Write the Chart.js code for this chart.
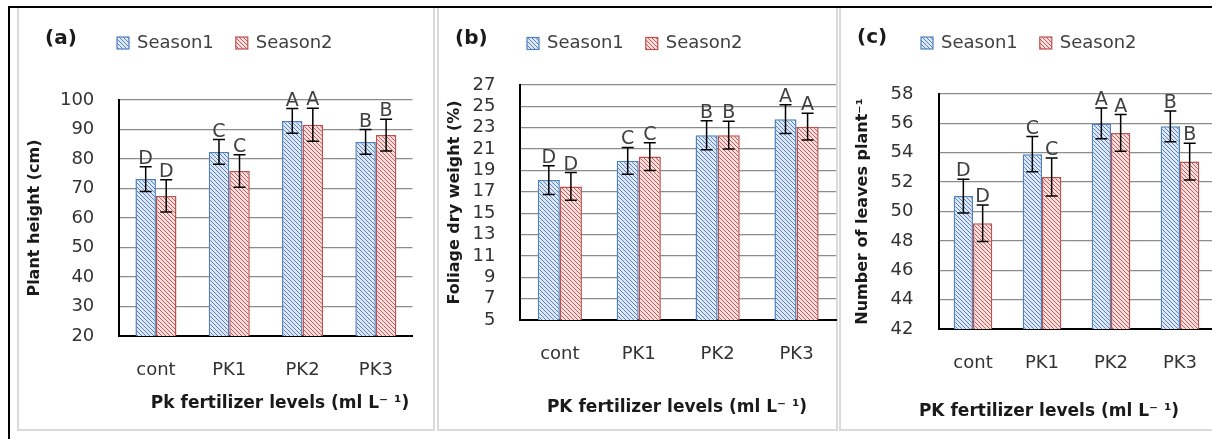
<!DOCTYPE html>
<html>
<head>
<meta charset="utf-8">
<script src="https://cdn.jsdelivr.net/npm/chart.js@4.4.0/dist/chart.umd.min.js"></script>
<style>
  html, body { margin: 0; padding: 0; background: #fff; }
  #sheet { position: relative; width: 1212px; height: 439px; overflow: hidden; background: #fff; }
  .panel { position: absolute; top: 8px; height: 423px; box-sizing: border-box;
           border: 2px solid #dadada; border-top: none; }
  .rule { position: absolute; background: #000; }
  canvas { position: absolute; top: 9px; }
</style>
</head>
<body>
<div id="sheet">
  <div class="panel" style="left:17px;width:418px"></div>
  <div class="panel" style="left:437px;width:401px"></div>
  <div class="panel" style="left:839px;width:400px"></div>
  <div class="rule" style="left:8px;top:6px;width:1204px;height:2px"></div>
  <div class="rule" style="left:8px;top:6px;width:2px;height:433px"></div>
  <canvas id="cHeight" width="413" height="418" style="left:19px"></canvas>
  <canvas id="cFoliage" width="399" height="418" style="left:439px"></canvas>
  <canvas id="cLeaves" width="383" height="418" style="left:842px"></canvas>
</div>
<script>
// ---- data ----
const levels = ['cont', 'PK1', 'PK2', 'PK3'];
const seasons = ['Season1', 'Season2'];

// (a) plant height (cm)
const heightS1 = [73.2, 82.4, 92.9, 85.8];
const heightS2 = [67.5, 75.9, 91.6, 88.1];
const heightErrS1 = [4.2, 4.2, 4.2, 4.2];
const heightErrS2 = [5.5, 5.5, 5.6, 5.4];
const heightGroups = ['D', 'C', 'A', 'B'];
const heightAxis = [20, 100, 10];   // min, max, step

// (b) foliage dry weight (%)
const foliageS1 = [18.1, 19.9, 22.3, 23.8];
const foliageS2 = [17.5, 20.3, 22.3, 23.1];
const foliageErrS1 = [1.35, 1.25, 1.35, 1.35];
const foliageErrS2 = [1.3, 1.3, 1.3, 1.25];
const foliageGroups = ['D', 'C', 'B', 'A'];
const foliageAxis = [5, 27, 2];

// (c) number of leaves per plant
const leavesS1 = [51.05, 53.9, 56.0, 55.8];
const leavesS2 = [49.2, 52.35, 55.35, 53.4];
const leavesErrS1 = [1.15, 1.2, 1.05, 1.05];
const leavesErrS2 = [1.25, 1.3, 1.25, 1.25];
const leavesGroups = ['D', 'C', 'A', 'B'];
const leavesAxis = [42, 58, 2];

const FONT = 'DejaVu Sans';

// diagonal hatch fill, like Excel's "wide downward diagonal"
function hatch(bg, fg) {
  const t = document.createElement('canvas');
  t.width = t.height = 8;
  const c = t.getContext('2d');
  c.fillStyle = bg; c.fillRect(0, 0, 8, 8);
  c.strokeStyle = fg; c.lineWidth = 1;
  c.beginPath();
  for (let k = -8; k <= 8; k += 4) { c.moveTo(k, 0); c.lineTo(k + 8, 8); }
  c.stroke();
  return c.createPattern(t, 'repeat');
}
const blueFill = hatch('#dfe7f3', '#5583c0');
const redFill = hatch('#f5e0df', '#c65a57');

// error bars + significance letters
const errorBars = {
  id: 'errorBars',
  afterDatasetsDraw(chart) {
    const { ctx, scales: { y } } = chart;
    ctx.save();
    chart.data.datasets.forEach((ds, i) => {
      chart.getDatasetMeta(i).data.forEach((bar, j) => {
        const v = ds.data[j], e = ds.err[j];
        const top = y.getPixelForValue(v + e), bot = y.getPixelForValue(v - e);
        ctx.strokeStyle = '#000'; ctx.lineWidth = 1.5;
        ctx.beginPath();
        ctx.moveTo(bar.x, top); ctx.lineTo(bar.x, bot);
        ctx.moveTo(bar.x - 6, top); ctx.lineTo(bar.x + 6, top);
        ctx.moveTo(bar.x - 6, bot); ctx.lineTo(bar.x + 6, bot);
        ctx.stroke();
        ctx.fillStyle = '#404040';
        ctx.font = `19px "${FONT}"`;
        ctx.textAlign = 'center'; ctx.textBaseline = 'alphabetic';
        ctx.fillText(ds.groups[j], bar.x, top - 3);
      });
    });
    ctx.restore();
  }
};

// panel tag, inline legend and x-axis caption
const panelText = {
  id: 'panelText',
  afterDraw(chart, args, o) {
    const ctx = chart.ctx;
    ctx.save();
    ctx.textBaseline = 'middle'; ctx.textAlign = 'left';
    ctx.fillStyle = '#1a1a1a';
    ctx.font = `bold 20px "${FONT}"`;
    ctx.fillText(o.tag, o.tagX, o.tagY);
    ctx.font = `18px "${FONT}"`;
    let x = o.legendX;
    chart.data.datasets.forEach(ds => {
      ctx.fillStyle = ds.backgroundColor;
      ctx.fillRect(x, o.legendY - 6, 12, 12);
      ctx.strokeStyle = ds.borderColor; ctx.lineWidth = 1.2;
      ctx.strokeRect(x, o.legendY - 6, 12, 12);
      ctx.fillStyle = '#404040';
      ctx.fillText(ds.label, x + 20, o.legendY);
      x += 20 + ctx.measureText(ds.label).width + 22;
    });
    ctx.font = `bold 17px "${FONT}"`;
    ctx.fillStyle = '#1a1a1a'; ctx.textAlign = 'center';
    ctx.fillText(o.caption, o.captionX, o.captionY);
    ctx.restore();
  }
};

function panel(id, o) {
  return new Chart(document.getElementById(id), {
    type: 'bar',
    data: {
      labels: levels,
      datasets: [
        { label: seasons[0], data: o.s1, err: o.e1, groups: o.groups,
          backgroundColor: blueFill, borderColor: '#4f81bd', borderWidth: 1.5 },
        { label: seasons[1], data: o.s2, err: o.e2, groups: o.groups,
          backgroundColor: redFill, borderColor: '#c0504d', borderWidth: 1.5 }
      ]
    },
    options: {
      responsive: false, animation: false,
      layout: { padding: { left: 0, top: o.top, right: o.right, bottom: 0 } },
      datasets: { bar: { categoryPercentage: 0.56, barPercentage: 1 } },
      plugins: {
        legend: { display: false }, tooltip: { enabled: false },
        panelText: o.text
      },
      scales: {
        x: {
          grid: { display: false },
          border: { color: '#000', width: 2 },
          ticks: { color: '#333', font: { family: FONT, size: 18 }, padding: 16 },
          afterFit: s => { s.height = o.xh; }
        },
        y: {
          min: o.axis[0], max: o.axis[1],
          ticks: { stepSize: o.axis[2], autoSkip: false, color: '#333',
                   font: { family: FONT, size: 18 }, padding: 25 },
          grid: { color: '#8c8c8c', lineWidth: 1.3, drawTicks: false },
          border: { color: '#000', width: 2 },
          title: { display: true, text: o.ytitle, color: '#1a1a1a',
                   font: { family: FONT, size: 16, weight: 'bold' },
                   padding: { top: o.titlePad, bottom: 0 } },
          afterFit: s => { s.width = o.yw; }
        }
      }
    },
    plugins: [errorBars, panelText]
  });
}

panel('cHeight', {
  s1: heightS1, s2: heightS2, e1: heightErrS1, e2: heightErrS2, groups: heightGroups,
  axis: heightAxis, ytitle: 'Plant height (cm)',
  top: 91, right: 19.5, yw: 100.3, xh: 91, titlePad: 6.4,
  text: { tag: '(a)', tagX: 26, tagY: 30, legendX: 98, legendY: 34,
          caption: 'Pk fertilizer levels (ml L\u207B \u00B9)', captionX: 261, captionY: 395 }
});

panel('cFoliage', {
  s1: foliageS1, s2: foliageS2, e1: foliageErrS1, e2: foliageErrS2, groups: foliageGroups,
  axis: foliageAxis, ytitle: 'Foliage dry weight (%)',
  top: 76, right: 2, yw: 81.4, xh: 107, titlePad: 6.4,
  text: { tag: '(b)', tagX: 16, tagY: 30, legendX: 88, legendY: 34.5,
          caption: 'PK fertilizer levels (ml L\u207B \u00B9)', captionX: 238, captionY: 399 }
});

panel('cLeaves', {
  s1: leavesS1, s2: leavesS2, e1: leavesErrS1, e2: leavesErrS2, groups: leavesGroups,
  axis: leavesAxis, ytitle: 'Number of leaves plant\u207B\u00B9',
  top: 85, right: 10.5, yw: 96.5, xh: 98, titlePad: 11.4,
  text: { tag: '(c)', tagX: 15, tagY: 28.5, legendX: 79, legendY: 34,
          caption: 'PK fertilizer levels (ml L\u207B \u00B9)', captionX: 207, captionY: 403 }
});
</script>
</body>
</html>
